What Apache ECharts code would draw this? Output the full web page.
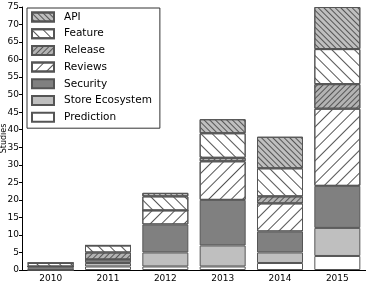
<!DOCTYPE html>
<html>
<head>
<meta charset="utf-8">
<script src="https://cdn.jsdelivr.net/npm/echarts@6/dist/echarts.min.js"></script>
<style>
  html, body { margin: 0; padding: 0; background: #fff; }
  #chart { width: 366px; height: 284px; }
</style>
</head>
<body>
<div id="chart"></div>
<script>
var years = ['2010', '2011', '2012', '2013', '2014', '2015'];
var prediction = [0, 1, 1, 1, 2, 4];
var storeEcosystem = [0, 1, 4, 6, 3, 8];
var security = [1, 1, 8, 13, 6, 12];
var reviews = [0, 0, 4, 11, 8, 22];
var release = [0, 2, 0, 1, 2, 7];
var feature = [1, 2, 4, 7, 8, 10];
var api = [0, 0, 1, 4, 9, 12];
var yTicks = [0, 75, 5];

// dir 1 => "/" lines, -1 => "\" lines
function hatch(bg, gap, dir) {
  return {
    color: bg,
    decal: {
      symbol: 'rect',
      color: '#555',
      dashArrayX: [1, 0],
      dashArrayY: [1, gap],
      rotation: -dir * Math.PI / 4,
      symbolSize: 1
    }
  };
}

var styles = {
  'Prediction': { color: '#ffffff' },
  'Store Ecosystem': { color: '#bfbfbf' },
  'Security': { color: '#808080' },
  'Reviews': hatch('#ffffff', 7, 1),
  'Release': hatch('#b3b3b3', 3, 1),
  'Feature': hatch('#ffffff', 7, -1),
  'API': hatch('#bfbfbf', 3, -1)
};

var seriesData = [
  ['Prediction', prediction],
  ['Store Ecosystem', storeEcosystem],
  ['Security', security],
  ['Reviews', reviews],
  ['Release', release],
  ['Feature', feature],
  ['API', api]
];

var chart = echarts.init(document.getElementById('chart'), null, { renderer: 'canvas' });
var font = 'DejaVu Sans';

chart.setOption({
  animation: false,
  textStyle: { fontFamily: font },
  grid: { left: 22, right: 0, top: 7, bottom: 14, containLabel: false, outerBoundsMode: 'none' },
  legend: {
    left: 27, top: 8,
    orient: 'vertical',
    icon: 'rect',
    data: ['API', 'Feature', 'Release', 'Reviews', 'Security', 'Store Ecosystem', 'Prediction'],
    itemWidth: 22, itemHeight: 9, itemGap: 4.7,
    padding: [3, 8, 5, 4],
    borderColor: '#333', borderWidth: 1, borderRadius: 0, backgroundColor: '#fff',
    textStyle: { fontFamily: font, fontSize: 10.5, color: '#000', lineHeight: 12, padding: [0, 0, 0, 5] }
  },
  xAxis: {
    type: 'category',
    data: years,
    axisLine: { lineStyle: { color: '#000', width: 1 } },
    axisTick: { show: false },
    axisLabel: { fontFamily: font, fontSize: 9, color: '#000', margin: 4 }
  },
  yAxis: {
    type: 'value',
    min: yTicks[0], max: yTicks[1], interval: yTicks[2],
    name: 'Studies', nameLocation: 'middle', nameGap: 14, nameMoveOverlap: false,
    nameTextStyle: { fontFamily: font, fontSize: 8, color: '#000' },
    axisLine: { show: true, lineStyle: { color: '#000', width: 1 } },
    axisTick: { show: true, length: 3, lineStyle: { color: '#000' } },
    axisLabel: { fontFamily: font, fontSize: 9, color: '#000', margin: 3 },
    splitLine: { show: false }
  },
  series: seriesData.map(function (s) {
    var st = styles[s[0]];
    return {
      name: s[0],
      type: 'bar',
      stack: 'all',
      barWidth: 46,
      data: s[1],
      itemStyle: {
        color: st.color,
        decal: st.decal,
        borderColor: '#555',
        borderWidth: 1
      }
    };
  })
});
</script>
</body>
</html>
